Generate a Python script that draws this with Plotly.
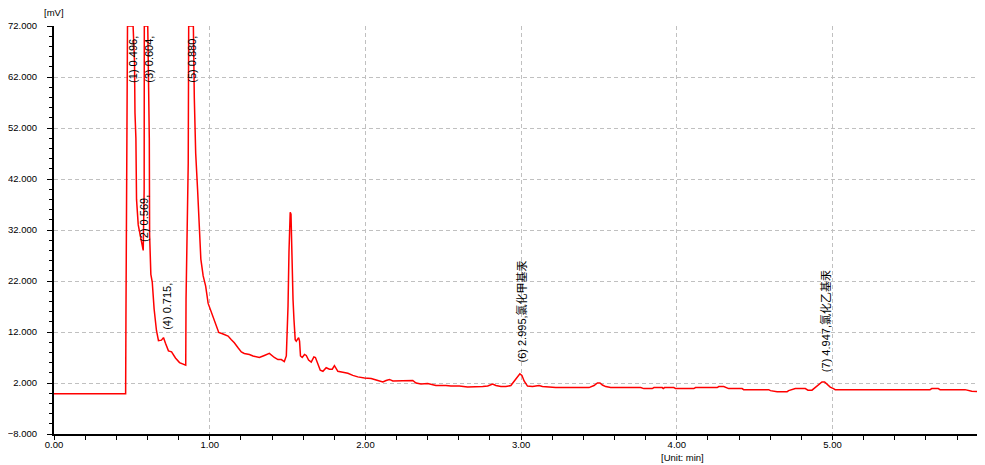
import plotly.graph_objects as go

# ---- data (retention time in min, signal in mV) ----
time_min = [
    0.000, 0.456, 0.460, 0.462, 0.466, 0.472, 0.508, 0.517, 0.520, 0.526, 0.530,
    0.541, 0.558, 0.567, 0.573, 0.579, 0.580, 0.599, 0.602, 0.605, 0.612, 0.614,
    0.622, 0.631, 0.643, 0.658, 0.671, 0.690, 0.703, 0.716, 0.735, 0.755, 0.780,
    0.806, 0.838, 0.846, 0.848, 0.862, 0.865, 0.895, 0.901, 0.910, 0.922, 0.930,
    0.943, 0.958, 0.974, 0.990, 1.011, 1.037, 1.058, 1.086, 1.118, 1.139, 1.158,
    1.182, 1.203, 1.222, 1.255, 1.278, 1.319, 1.351, 1.383, 1.415, 1.438, 1.460,
    1.479, 1.492, 1.496, 1.503, 1.509, 1.513, 1.517, 1.522, 1.528, 1.535, 1.541,
    1.549, 1.556, 1.571, 1.577, 1.583, 1.594, 1.609, 1.620, 1.635, 1.652, 1.669,
    1.679, 1.695, 1.710, 1.727, 1.748, 1.769, 1.787, 1.801, 1.823, 1.855, 1.887,
    1.919, 1.951, 1.994, 2.037, 2.069, 2.112, 2.133, 2.154, 2.176, 2.229, 2.304,
    2.325, 2.357, 2.400, 2.421, 2.453, 2.517, 2.549, 2.603, 2.656, 2.753, 2.785,
    2.817, 2.838, 2.870, 2.902, 2.934, 2.955, 2.977, 2.992, 3.005, 3.019, 3.041,
    3.073, 3.094, 3.115, 3.137, 3.222, 3.436, 3.468, 3.490, 3.506, 3.522, 3.543,
    3.575, 3.768, 3.788, 3.842, 3.853, 3.906, 3.913, 3.921, 3.981, 3.992, 4.109,
    4.120, 4.259, 4.269, 4.301, 4.333, 4.419, 4.429, 4.590, 4.601, 4.644, 4.708,
    4.718, 4.761, 4.825, 4.842, 4.868, 4.889, 4.910, 4.932, 4.949, 4.964, 4.985,
    5.006, 5.017, 5.626, 5.637, 5.679, 5.690, 5.851, 5.894, 5.936, 5.979,
]
signal_mv = [
    -0.1, -0.1, -0.1, 14.5, 43.9, 72.0, 72.0, 65.0, 55.0, 50.0, 38.0,
    33.0, 30.3, 28.7, 28.0, 40.0, 72.0, 72.0, 72.0, 66.0, 50.0, 31.0,
    23.3, 21.8, 16.5, 12.3, 10.3, 10.4, 10.9, 9.8, 8.3, 8.1, 6.9,
    6.0, 5.7, 5.5, 18.4, 45.0, 72.0, 72.0, 58.0, 47.0, 40.0, 34.8,
    26.3, 23.0, 21.0, 17.6, 15.8, 13.7, 11.9, 11.6, 11.2, 10.5, 9.9,
    8.9, 8.1, 7.8, 7.6, 7.3, 7.0, 7.4, 7.8, 7.0, 6.6, 6.6,
    6.2, 7.3, 10.5, 17.1, 27.6, 33.5, 35.5, 35.1, 24.9, 18.4, 14.5,
    10.5, 10.2, 10.9, 10.2, 7.3, 7.0, 7.6, 7.4, 6.5, 6.1, 7.1,
    7.0, 5.6, 4.5, 4.3, 5.0, 4.7, 4.7, 5.4, 4.3, 4.1, 3.9,
    3.5, 3.2, 3.0, 2.9, 2.6, 2.2, 2.5, 2.7, 2.4, 2.4, 2.5,
    2.0, 1.8, 1.9, 1.7, 1.5, 1.5, 1.4, 1.4, 1.2, 1.3, 1.4,
    1.8, 1.5, 1.3, 1.3, 1.5, 2.4, 3.3, 3.8, 3.5, 2.4, 1.4,
    1.3, 1.4, 1.5, 1.3, 1.1, 1.1, 1.5, 2.0, 2.0, 1.6, 1.3,
    1.1, 1.1, 0.9, 0.9, 1.1, 1.1, 0.9, 1.1, 1.1, 0.9, 0.9,
    1.1, 1.1, 1.3, 1.3, 0.9, 0.9, 0.7, 0.7, 0.5, 0.3, 0.3,
    0.5, 0.9, 0.9, 0.6, 0.6, 1.1, 1.7, 2.2, 2.2, 1.7, 1.2,
    0.9, 0.7, 0.7, 0.9, 0.9, 0.7, 0.7, 0.4, 0.3, 0.3,
]

# peak labels
peak_times = [0.496, 0.569, 0.604, 0.715, 0.880, 2.995, 4.947]
peak_labels = [
    "(1) 0.496,", "(2) 0.569,", "(3) 0.604,", "(4) 0.715,", "(5) 0.880,",
    "(6) 2.995,氯化甲基汞", "(7) 4.947,氯化乙基汞",
]
label_base_mv = [60.5, 29.2, 60.5, 12.1, 60.5, 5.6, 3.7]

x_ticks = [0, 1, 2, 3, 4, 5, 6]
y_ticks = [-8, 2, 12, 22, 32, 42, 52, 62, 72]
x_visible_max = 5.979
y_range = [-8, 72]

FONT = "Liberation Sans, Arial, Noto Sans CJK SC, sans-serif"

# page body has an 8px default margin; figure is sized so the plot lands
# where the reference has it
FIG_W, FIG_H = 977, 457
M_L, M_R, M_T, M_B = 44, 0, 18, 31
PLOT_W = FIG_W - M_L - M_R

fig = go.Figure()
fig.add_trace(go.Scatter(
    x=time_min, y=signal_mv, mode="lines",
    line=dict(color="#ff0000", width=1.5, shape="linear"),
    hoverinfo="skip", showlegend=False,
))

for t, txt, yb in zip(peak_times, peak_labels, label_base_mv):
    fig.add_annotation(
        x=t, y=yb, xref="x", yref="y", text=txt, showarrow=False,
        textangle=-90, xanchor="center", yanchor="bottom", xshift=1.5,
        font=dict(family=FONT, size=11, color="#000000"),
    )

# cut-off "6.00" tick label at right edge
fig.add_annotation(
    x=6 / x_visible_max, y=0, xref="paper", yref="paper", yanchor="top",
    xanchor="center", text="6.00", showarrow=False, yshift=-3,
    font=dict(family=FONT, size=9.5, color="#000000"),
)
fig.add_annotation(
    x=0, y=1, xref="paper", yref="paper", text="[mV]", showarrow=False,
    xanchor="center", yanchor="bottom", yshift=6,
    font=dict(family=FONT, size=9.5, color="#000000"),
)
fig.add_annotation(
    x=629.5 / PLOT_W, y=0, xref="paper", yref="paper", text="[Unit: min]",
    showarrow=False, xanchor="center", yanchor="top", yshift=-16,
    font=dict(family=FONT, size=9.5, color="#000000"),
)

fig.update_xaxes(
    range=[0, x_visible_max], tickvals=x_ticks, tickformat=".2f",
    showgrid=True, gridcolor="#c0c0c0", griddash="4px,3px", gridwidth=1,
    showline=True, linecolor="#000000", linewidth=2,
    ticks="outside", ticklen=4, tickwidth=1, tickcolor="#000000",
    minor=dict(dtick=0.2, tick0=0, ticks="outside", ticklen=4, tickcolor="#000000", showgrid=False),
    zeroline=False, tickfont=dict(family=FONT, size=9.5, color="#000000"),
    ticklabelstandoff=-3, fixedrange=True,
)
fig.update_yaxes(
    range=y_range, tickvals=y_ticks, tickformat=".3f",
    showgrid=True, gridcolor="#c0c0c0", griddash="4px,3px", gridwidth=1,
    showline=True, linecolor="#000000", linewidth=2,
    ticks="outside", ticklen=5, tickwidth=1, tickcolor="#000000",
    minor=dict(dtick=2, tick0=0, ticks="outside", ticklen=3, tickcolor="#000000", showgrid=False),
    zeroline=False, tickfont=dict(family=FONT, size=9.5, color="#000000"),
    ticklabelstandoff=8, fixedrange=True,
)

fig.update_layout(
    width=FIG_W, height=FIG_H,
    margin=dict(l=M_L, r=M_R, t=M_T, b=M_B, pad=0),
    plot_bgcolor="#ffffff", paper_bgcolor="#ffffff",
    font=dict(family=FONT),
    showlegend=False,
)

fig.write_html("out.html")
